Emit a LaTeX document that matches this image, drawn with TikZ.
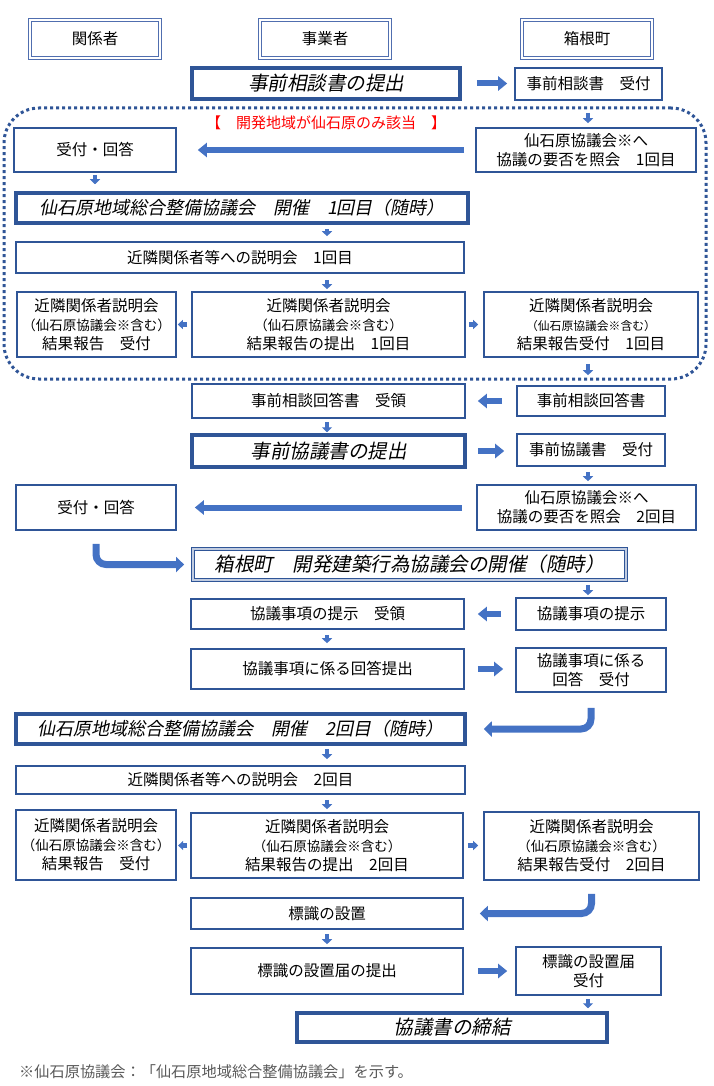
\documentclass[tikz,border=0pt]{standalone}
\usepackage{fontspec}
\setmainfont{Noto Sans CJK JP}
\newfontfamily\slantjp{Noto Sans CJK JP}[FakeSlant=0.2]
\usepackage{tikz}
\usetikzlibrary{arrows.meta, positioning, calc}
\definecolor{flowblue}{RGB}{47, 85, 151}
\definecolor{headblue}{RGB}{80, 110, 175}
\definecolor{arrowblue}{RGB}{68, 114, 196}
\definecolor{notered}{RGB}{255, 0, 0}
\definecolor{notegray}{RGB}{89, 89, 89}
\newcommand{\parsm}{\fontsize{13.5}{16}\selectfont}
\newcommand{\parsmr}{\fontsize{11.8}{14}\selectfont}

\tikzset{
  box/.style={draw=flowblue, line width=1.6pt, inner sep=0pt, align=center, font=\fontsize{15.5}{19}\selectfont},
  keybox/.style={box, line width=3.5pt, font=\slantjp\fontsize{19.5}{22}\selectfont},
  meetbox/.style={keybox, font=\slantjp\fontsize{18}{20}\selectfont},
  headbox/.style={box, draw=headblue, line width=1.2pt, double=white, double distance=1.6pt, minimum width=130pt, minimum height=38pt},
  fwdarrow/.style={arrowblue, line width=6pt, -{Triangle[length=9pt, width=14pt]}},
  downarrow/.style={arrowblue, line width=4.5pt, -{Triangle[length=5pt, width=10pt]}},
  sidearrow/.style={arrowblue, line width=4.5pt, -{Triangle[length=5pt, width=9pt]}},
  bendarrow/.style={arrowblue, line width=7pt, rounded corners=10pt, -{Triangle[length=8pt, width=15pt]}},
}

\begin{document}
\begin{tikzpicture}[x=1pt, y=-1pt]
  \useasboundingbox (0,0) rectangle (713,1086);
  \coordinate (colm) at (327,0);
  \coordinate (colr) at (588,0);

  % Column headings
  \node[headbox] (hdl) at (95,39) {関係者};
  \node[headbox] (hdm) at (325,39) {事業者};
  \node[headbox] (hdr) at (587,39) {箱根町};

  % Prior consultation
  \node[keybox, minimum width=268pt, minimum height=31pt] (m1) at (326,83.5) {事前相談書の提出};
  \node[box, minimum width=147pt, minimum height=32pt] (r1) at (588.5,84) {事前相談書　受付};

  % Area: Sengokuhara only
  \node[draw=flowblue, line width=3pt, dash pattern=on 3pt off 3pt, rounded corners=35pt, minimum width=702pt, minimum height=271pt] (area) at (355,243.5) {};
  \node[font=\fontsize{15}{18}\selectfont, text=notered] (areatitle) at (326,123) {【　開発地域が仙石原のみ該当　】};

  \node[box, minimum width=220pt, minimum height=44pt] (r2) at (586,150) {仙石原協議会※へ\\協議の要否を照会　1回目};
  \node[box, minimum width=162pt, minimum height=44pt] (l1) at (95,150) {受付・回答};
  \node[meetbox, minimum width=452pt, minimum height=30pt] (w1) at (242,208) {仙石原地域総合整備協議会　開催　1回目（随時）};
  \node[box, minimum width=448pt, minimum height=31pt] (w2) at (240,257.5) {近隣関係者等への説明会　1回目};
  \node[box, minimum width=159pt, minimum height=65pt] (l2) at (96.5,324.5) {近隣関係者説明会\\{\parsm （仙石原協議会※含む）}\\結果報告　受付};
  \node[box, minimum width=273pt, minimum height=65pt] (m2) at (328.5,324.5) {近隣関係者説明会\\{\parsm （仙石原協議会※含む）}\\結果報告の提出　1回目};
  \node[box, minimum width=214pt, minimum height=65pt] (r3) at (591,324.5) {近隣関係者説明会\\{\parsmr （仙石原協議会※含む）}\\結果報告受付　1回目};

  % Answer and prior discussion
  \node[box, minimum width=148pt, minimum height=30pt] (r4) at (591,401) {事前相談回答書};
  \node[box, minimum width=273pt, minimum height=34pt] (m3) at (328.5,401) {事前相談回答書　受領};
  \node[keybox, minimum width=273pt, minimum height=32pt] (m4) at (328.5,451) {事前協議書の提出};
  \node[box, minimum width=148pt, minimum height=32pt] (r5) at (591,450) {事前協議書　受付};
  \node[box, minimum width=219pt, minimum height=45pt] (r6) at (586.5,507.5) {仙石原協議会※へ\\協議の要否を照会　2回目};
  \node[box, minimum width=160pt, minimum height=45pt] (l3) at (96,507.5) {受付・回答};

  % Hakone council
  \node[keybox, line width=1.8pt, double=flowblue!30, double distance=1.2pt, minimum width=433pt, minimum height=31pt] (m5) at (409.5,564.5) {箱根町　開発建築行為協議会の開催（随時）};
  \node[box, minimum width=150pt, minimum height=32pt] (r7) at (591,614) {協議事項の提示};
  \node[box, minimum width=273pt, minimum height=30pt] (m6) at (327.5,614) {協議事項の提示　受領};
  \node[box, minimum width=273pt, minimum height=40pt] (m7) at (327.5,669) {協議事項に係る回答提出};
  \node[box, minimum width=150pt, minimum height=44pt] (r8) at (591,670) {協議事項に係る\\回答　受付};

  % Second round
  \node[meetbox, minimum width=449pt, minimum height=30pt] (w3) at (240.5,729) {仙石原地域総合整備協議会　開催　2回目（随時）};
  \node[box, minimum width=449pt, minimum height=28pt] (w4) at (240.5,780) {近隣関係者等への説明会　2回目};
  \node[box, line width=2.2pt, minimum width=160pt, minimum height=70pt] (l4) at (96,845) {近隣関係者説明会\\{\parsm （仙石原協議会※含む）}\\結果報告　受付};
  \node[box, minimum width=272pt, minimum height=65pt] (m8) at (327,845.5) {近隣関係者説明会\\{\parsm （仙石原協議会※含む）}\\結果報告の提出　2回目};
  \node[box, minimum width=215pt, minimum height=68pt] (r9) at (591.5,846) {近隣関係者説明会\\{\parsm （仙石原協議会※含む）}\\結果報告受付　2回目};

  % Sign and agreement
  \node[box, minimum width=272pt, minimum height=31pt] (m9) at (327,913.5) {標識の設置};
  \node[box, minimum width=272pt, minimum height=46pt] (m10) at (327,971) {標識の設置届の提出};
  \node[box, minimum width=145pt, minimum height=48pt] (r10) at (588.5,971) {標識の設置届\\受付};
  \node[keybox, minimum width=310pt, minimum height=29pt] (m11) at (452,1027.5) {協議書の締結};

  % Note
  \node[anchor=west, inner sep=0pt, text=notegray, font=\fontsize{15.2}{17}\selectfont] (note) at (19,1072) {※仙石原協議会：「仙石原地域総合整備協議会」を示す。};

  % Arrows
  \draw[fwdarrow, shorten <=15pt, shorten >=7pt] (m1.east) -- (m1.east -| r1.west);
  \draw[downarrow, shorten <=12pt, shorten >=4pt] (r1.south -| colr) -- (r2.north -| colr);
  \draw[fwdarrow, shorten <=11pt, shorten >=21pt] (r2.west) -- (r2.west -| l1.east);
  \draw[downarrow, shorten <=2pt, shorten >=7pt] (l1.south) -- (l1.south |- w1.north);
  \draw[downarrow, shorten <=4pt, shorten >=5pt] (w1.south -| colm) -- (w2.north -| colm);
  \draw[downarrow, shorten <=6pt, shorten >=2pt] (w2.south -| colm) -- (m2.north -| colm);
  \draw[sidearrow, shorten <=4pt, shorten >=1pt] (m2.west) -- (m2.west -| l2.east);
  \draw[sidearrow, shorten <=3pt, shorten >=5pt] (m2.east) -- (m2.east -| r3.west);
  \draw[downarrow, shorten <=6pt, shorten >=10pt] (r3.south -| colr) -- (r4.north -| colr);
  \draw[fwdarrow, shorten <=14pt, shorten >=12pt] (r4.west) -- (r4.west -| m3.east);
  \draw[downarrow, shorten <=3pt, shorten >=1pt] (m3.south -| colm) -- (m4.north -| colm);
  \draw[fwdarrow, shorten <=11pt, shorten >=12pt] (m4.east) -- (m4.east -| r5.west);
  \draw[downarrow, shorten <=5pt, shorten >=3pt] (r5.south -| colr) -- (r6.north -| colr);
  \draw[fwdarrow, shorten <=14pt, shorten >=18pt] (r6.west) -- (r6.west -| l3.east);
  \draw[bendarrow, shorten <=13pt, shorten >=8pt] (l3.south) |- (m5.west);
  \draw[downarrow, shorten <=4pt, shorten >=2pt] (m5.south -| colr) -- (r7.north -| colr);
  \draw[fwdarrow, shorten <=14pt, shorten >=13pt] (r7.west) -- (r7.west -| m6.east);
  \draw[downarrow, shorten <=5pt, shorten >=5pt] (m6.south -| colm) -- (m7.north -| colm);
  \draw[fwdarrow, shorten <=13pt, shorten >=12pt] (m7.east) -- (m7.east -| r8.west);
  \draw[bendarrow, shorten <=15pt, shorten >=17pt] (r8.south) |- (w3.east);
  \draw[downarrow, shorten <=3pt, shorten >=6pt] (w3.south -| colm) -- (w4.north -| colm);
  \draw[downarrow, shorten <=5pt, shorten >=3pt] (w4.south -| colm) -- (m8.north -| colm);
  \draw[sidearrow, shorten <=3pt, shorten >=1pt] (m8.west) -- (m8.west -| l4.east);
  \draw[sidearrow, shorten <=4pt, shorten >=5pt] (m8.east) -- (m8.east -| r9.west);
  \draw[bendarrow, shorten <=13pt, shorten >=16pt] (r9.south) |- (m9.east);
  \draw[downarrow, shorten <=4pt, shorten >=3pt] (m9.south -| colm) -- (m10.north -| colm);
  \draw[fwdarrow, shorten <=14pt, shorten >=8pt] (m10.east) -- (m10.east -| r10.west);
  \draw[downarrow, shorten <=3pt, shorten >=3pt] (r10.south -| colr) -- (m11.north -| colr);
\end{tikzpicture}
\end{document}
